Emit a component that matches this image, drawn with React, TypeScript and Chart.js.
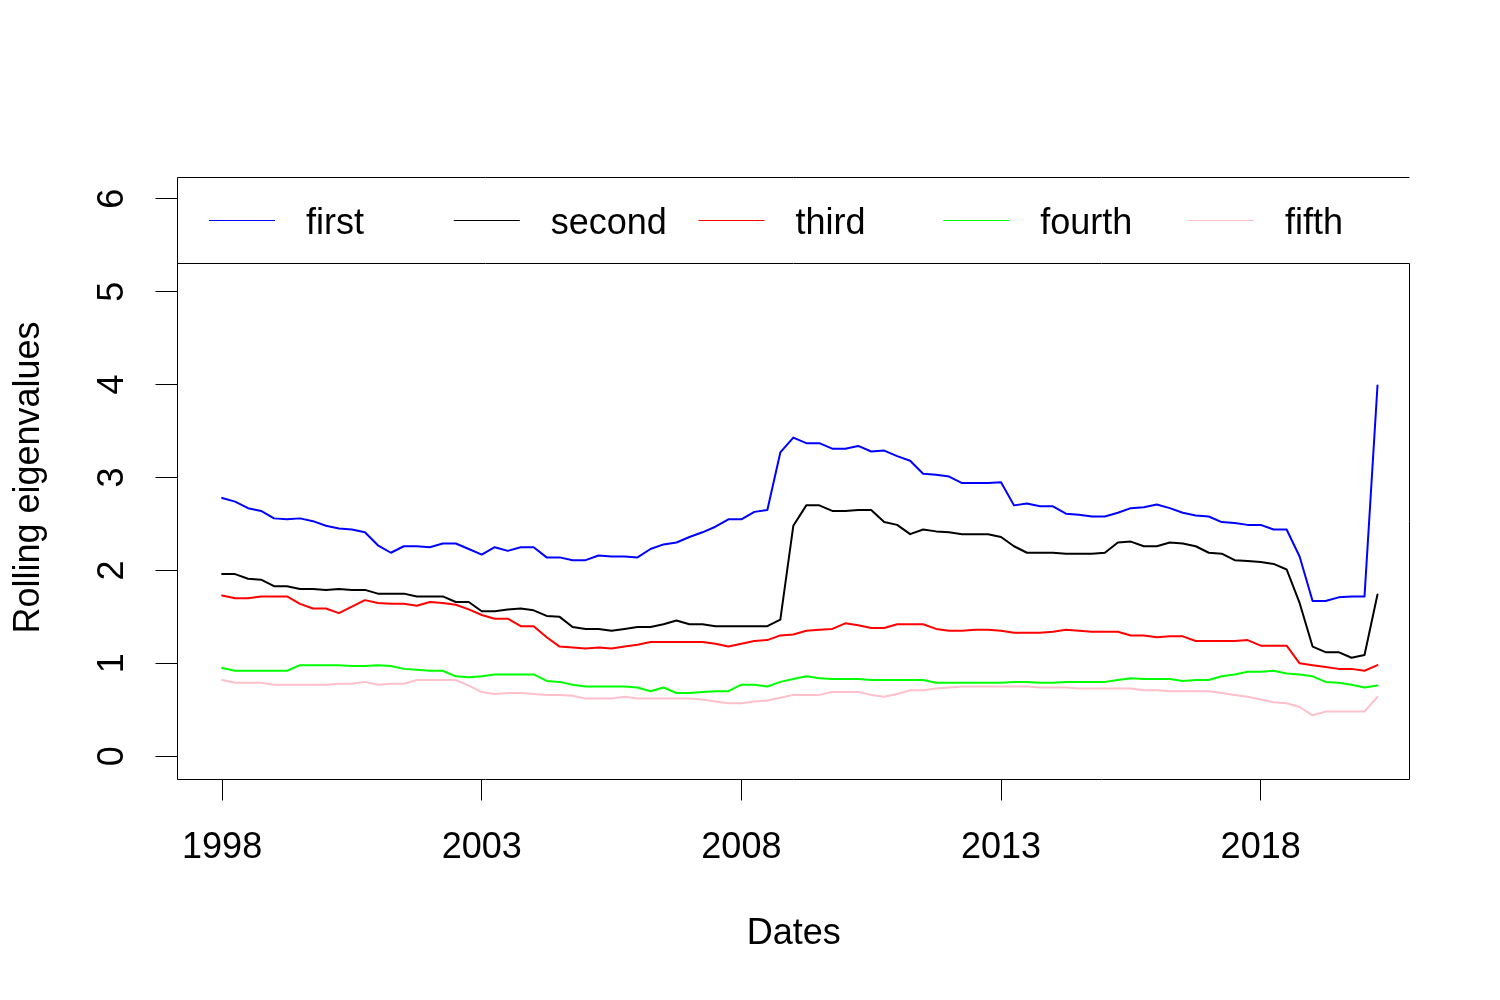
import React, { useEffect, useRef } from "react";
import { Chart, registerables } from "chart.js";

Chart.register(...registerables);

// Quarterly observations starting 1998 Q1
const startYear = 1998;
const periodsPerYear = 4;

const first = [
  2.78, 2.74, 2.67, 2.64, 2.56, 2.55, 2.56, 2.53, 2.48, 2.45, 2.44, 2.41, 2.27, 2.19, 2.26, 2.26,
  2.25, 2.29, 2.29, 2.23, 2.17, 2.25, 2.21, 2.25, 2.25, 2.14, 2.14, 2.11, 2.11, 2.16, 2.15, 2.15,
  2.14, 2.23, 2.28, 2.30, 2.36, 2.41, 2.47, 2.55, 2.55, 2.63, 2.65, 3.27, 3.43, 3.37, 3.37, 3.31,
  3.31, 3.34, 3.28, 3.29, 3.23, 3.18, 3.04, 3.03, 3.01, 2.94, 2.94, 2.94, 2.95, 2.70, 2.72, 2.69,
  2.69, 2.61, 2.60, 2.58, 2.58, 2.62, 2.67, 2.68, 2.71, 2.67, 2.62, 2.59, 2.58, 2.52, 2.51, 2.49,
  2.49, 2.44, 2.44, 2.15, 1.67, 1.67, 1.71, 1.72, 1.72, 3.99,
];

const second = [
  1.96, 1.96, 1.91, 1.90, 1.83, 1.83, 1.80, 1.80, 1.79, 1.80, 1.79, 1.79, 1.75, 1.75, 1.75, 1.72,
  1.72, 1.72, 1.66, 1.66, 1.56, 1.56, 1.58, 1.59, 1.57, 1.51, 1.50, 1.39, 1.37, 1.37, 1.35, 1.37,
  1.39, 1.39, 1.42, 1.46, 1.42, 1.42, 1.40, 1.40, 1.40, 1.40, 1.40, 1.47, 2.48, 2.70, 2.70, 2.64,
  2.64, 2.65, 2.65, 2.52, 2.49, 2.39, 2.44, 2.42, 2.41, 2.39, 2.39, 2.39, 2.36, 2.26, 2.19, 2.19,
  2.19, 2.18, 2.18, 2.18, 2.19, 2.30, 2.31, 2.26, 2.26, 2.30, 2.29, 2.26, 2.19, 2.18, 2.11, 2.10,
  2.09, 2.07, 2.01, 1.65, 1.18, 1.12, 1.12, 1.06, 1.09, 1.74,
];

const third = [
  1.73, 1.70, 1.70, 1.72, 1.72, 1.72, 1.64, 1.59, 1.59, 1.54, 1.61, 1.68, 1.65, 1.64, 1.64, 1.62,
  1.66, 1.65, 1.63, 1.58, 1.52, 1.48, 1.48, 1.40, 1.40, 1.28, 1.18, 1.17, 1.16, 1.17, 1.16, 1.18,
  1.20, 1.23, 1.23, 1.23, 1.23, 1.23, 1.21, 1.18, 1.21, 1.24, 1.25, 1.30, 1.31, 1.35, 1.36, 1.37,
  1.43, 1.41, 1.38, 1.38, 1.42, 1.42, 1.42, 1.37, 1.35, 1.35, 1.36, 1.36, 1.35, 1.33, 1.33, 1.33,
  1.34, 1.36, 1.35, 1.34, 1.34, 1.34, 1.30, 1.30, 1.28, 1.29, 1.29, 1.24, 1.24, 1.24, 1.24, 1.25,
  1.19, 1.19, 1.19, 1.00, 0.98, 0.96, 0.94, 0.94, 0.92, 0.98,
];

const fourth = [
  0.95, 0.92, 0.92, 0.92, 0.92, 0.92, 0.98, 0.98, 0.98, 0.98, 0.97, 0.97, 0.98, 0.97, 0.94, 0.93,
  0.92, 0.92, 0.86, 0.85, 0.86, 0.88, 0.88, 0.88, 0.88, 0.81, 0.80, 0.77, 0.75, 0.75, 0.75, 0.75,
  0.74, 0.70, 0.74, 0.68, 0.68, 0.69, 0.70, 0.70, 0.77, 0.77, 0.75, 0.80, 0.83, 0.86, 0.84, 0.83,
  0.83, 0.83, 0.82, 0.82, 0.82, 0.82, 0.82, 0.79, 0.79, 0.79, 0.79, 0.79, 0.79, 0.80, 0.80, 0.79,
  0.79, 0.80, 0.80, 0.80, 0.80, 0.82, 0.84, 0.83, 0.83, 0.83, 0.81, 0.82, 0.82, 0.86, 0.88, 0.91,
  0.91, 0.92, 0.89, 0.88, 0.86, 0.80, 0.79, 0.77, 0.74, 0.76,
];

const fifth = [
  0.82, 0.79, 0.79, 0.79, 0.77, 0.77, 0.77, 0.77, 0.77, 0.78, 0.78, 0.80, 0.77, 0.78, 0.78, 0.82,
  0.82, 0.82, 0.82, 0.76, 0.69, 0.67, 0.68, 0.68, 0.67, 0.66, 0.66, 0.65, 0.62, 0.62, 0.62, 0.64,
  0.62, 0.62, 0.62, 0.62, 0.62, 0.61, 0.59, 0.57, 0.57, 0.59, 0.60, 0.63, 0.66, 0.66, 0.66, 0.69,
  0.69, 0.69, 0.66, 0.64, 0.67, 0.71, 0.71, 0.73, 0.74, 0.75, 0.75, 0.75, 0.75, 0.75, 0.75, 0.74,
  0.74, 0.74, 0.73, 0.73, 0.73, 0.73, 0.73, 0.71, 0.71, 0.70, 0.70, 0.70, 0.70, 0.68, 0.66, 0.64,
  0.61, 0.58, 0.57, 0.53, 0.44, 0.48, 0.48, 0.48, 0.48, 0.64,
];

const seriesNames = ["first", "second", "third", "fourth", "fifth"];
const seriesValues = [first, second, third, fourth, fifth];
const seriesColors = ["#0000FF", "#000000", "#FF0000", "#00FF00", "#FFC0CB"];

const xTickYears = [1998, 2003, 2008, 2013, 2018];
const yTickValues = [0, 1, 2, 3, 4, 5, 6];

const xLabel = "Dates";
const yLabel = "Rolling eigenvalues";

const dates = first.map((_, i) => startYear + i / periodsPerYear);

const FONT = "'Liberation Sans', Arial, Helvetica, sans-serif";

const boxAndLegend = {
  id: "boxAndLegend",
  afterDraw(chart: any) {
    const { ctx, chartArea } = chart;
    const x0 = Math.round(chartArea.left) - 0.5;
    const x1 = Math.round(chartArea.right) - 0.5;
    const y0 = Math.round(chartArea.top) + 0.5;
    const y1 = Math.round(chartArea.bottom) + 0.5;
    const legendBottom = 263.5;

    ctx.save();
    ctx.fillStyle = "#FFFFFF";
    ctx.fillRect(x0, y0, x1 - x0 + 1, legendBottom - y0);

    ctx.strokeStyle = "#000000";
    ctx.lineWidth = 1;
    ctx.beginPath();
    ctx.moveTo(x0, y0);
    ctx.lineTo(x1, y0);
    ctx.moveTo(x0, y0);
    ctx.lineTo(x0, y1);
    ctx.lineTo(x1, y1);
    ctx.lineTo(x1, legendBottom);
    ctx.moveTo(x0, legendBottom);
    ctx.lineTo(x1, legendBottom);
    ctx.stroke();

    const itemStart = 209;
    const itemStep = 244.75;
    const lineLen = 66;
    const textOffset = 97;
    const rowY = 220.5;
    ctx.font = `36px ${FONT}`;
    ctx.textBaseline = "middle";
    ctx.textAlign = "left";
    seriesNames.forEach((name, k) => {
      const sx = itemStart + itemStep * k;
      ctx.strokeStyle = seriesColors[k];
      ctx.lineWidth = 1;
      ctx.beginPath();
      ctx.moveTo(sx, rowY);
      ctx.lineTo(sx + lineLen, rowY);
      ctx.stroke();
      ctx.fillStyle = "#000000";
      ctx.fillText(name, sx + textOffset, 224);
    });
    ctx.restore();
  },
};

export default function App() {
  const canvasRef = useRef<HTMLCanvasElement | null>(null);

  useEffect(() => {
    if (!canvasRef.current) return;
    Chart.defaults.font.family = FONT;
    Chart.defaults.font.size = 36;
    Chart.defaults.color = "#000000";

    const chart = new Chart(canvasRef.current, {
      type: "line",
      data: {
        datasets: seriesNames.map((name, k) => ({
          label: name,
          data: seriesValues[k].map((v, i) => ({ x: dates[i], y: v })),
          borderColor: seriesColors[k],
          backgroundColor: seriesColors[k],
          borderWidth: 2,
          pointRadius: 0,
          tension: 0,
          fill: false,
          borderJoinStyle: "round" as const,
          borderCapStyle: "round" as const,
        })),
      },
      options: {
        animation: false,
        responsive: false,
        devicePixelRatio: 1,
        layout: { padding: { top: 176.5, right: 90, left: 0, bottom: 0 } },
        plugins: {
          legend: { display: false },
          tooltip: { enabled: false },
          title: { display: false },
        },
        scales: {
          x: {
            type: "linear",
            min: 1997.141,
            max: 2020.876,
            afterBuildTicks: (scale: any) => {
              scale.ticks = xTickYears.map((v) => ({ value: v }));
            },
            afterFit: (scale: any) => {
              scale.height = 221.5;
            },
            border: { display: false },
            grid: {
              drawOnChartArea: false,
              drawTicks: true,
              tickLength: 22,
              color: "#000000",
              lineWidth: 1,
            },
            ticks: {
              padding: 25.5,
              maxRotation: 0,
              minRotation: 0,
              autoSkip: false,
              color: "#000000",
              font: { size: 36, family: FONT },
              callback: (v: any) => String(v),
            },
            title: {
              display: true,
              text: xLabel,
              color: "#000000",
              font: { size: 36, family: FONT },
              padding: { top: 0, bottom: 44 },
            },
          },
          y: {
            type: "linear",
            min: -0.24,
            max: 6.24,
            afterBuildTicks: (scale: any) => {
              scale.ticks = yTickValues.map((v) => ({ value: v }));
            },
            afterFit: (scale: any) => {
              scale.width = 177.5;
            },
            border: { display: false },
            grid: {
              drawOnChartArea: false,
              drawTicks: true,
              tickLength: 22,
              color: "#000000",
              lineWidth: 1,
            },
            ticks: {
              padding: 32.5,
              minRotation: 90,
              maxRotation: 90,
              crossAlign: "center",
              autoSkip: false,
              color: "#000000",
              font: { size: 36, family: FONT },
              callback: (v: any) => String(v),
            },
            title: {
              display: true,
              text: yLabel,
              color: "#000000",
              font: { size: 36, family: FONT },
              padding: { top: 7.5, bottom: 0 },
            },
          },
        },
      },
      plugins: [boxAndLegend],
    });

    return () => chart.destroy();
  }, []);

  return (
    <div
      style={{
        position: "absolute",
        left: 0,
        top: 0,
        width: 1500,
        height: 1000,
        background: "#FFFFFF",
      }}
    >
      <canvas ref={canvasRef} width={1500} height={1000} style={{ display: "block" }} />
    </div>
  );
}
